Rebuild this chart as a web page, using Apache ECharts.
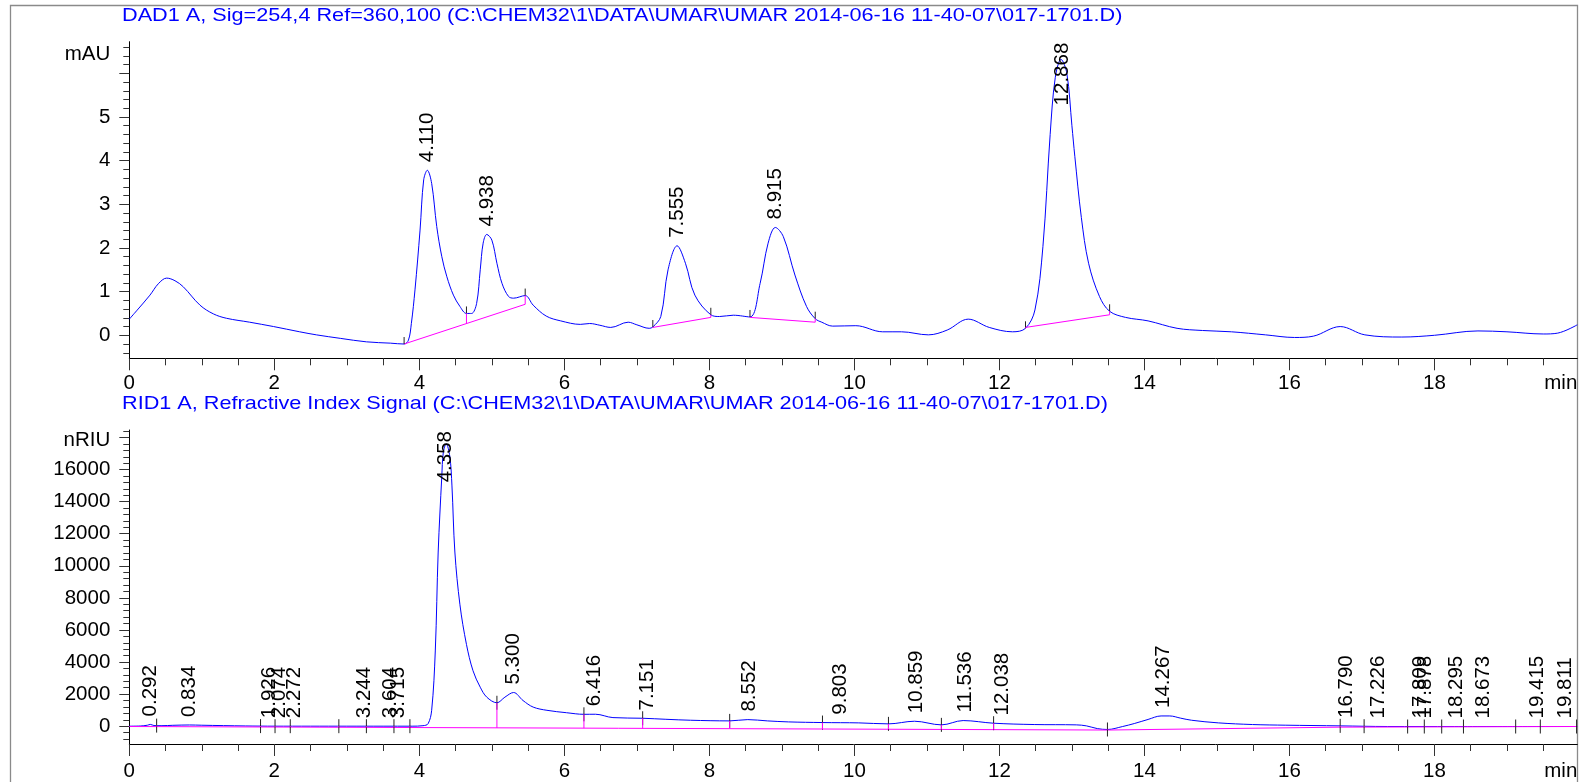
<!DOCTYPE html>
<html><head><meta charset="utf-8">
<script src="https://cdn.jsdelivr.net/npm/echarts@6/dist/echarts.min.js"></script>
<style>html,body{margin:0;padding:0;background:#fff;}#c{width:1579px;height:782px;}</style>
</head><body><div id="c"></div>
<script>
// ---------- texts ----------
const dadTitle = 'DAD1 A, Sig=254,4 Ref=360,100 (C:\\CHEM32\\1\\DATA\\UMAR\\UMAR 2014-06-16 11-40-07\\017-1701.D)';
const ridTitle = 'RID1 A, Refractive Index Signal (C:\\CHEM32\\1\\DATA\\UMAR\\UMAR 2014-06-16 11-40-07\\017-1701.D)';
const dadUnit = 'mAU';
const ridUnit = 'nRIU';
const xUnit = 'min';

// ---------- tick values ----------
const xMajorTicks = [0, 2, 4, 6, 8, 10, 12, 14, 16, 18];
const xTickLabels = [0, 2, 4, 6, 8, 10, 12, 14, 16, 18];
const dadYMajorTicks = [0, 1, 2, 3, 4, 5, 6];
const dadYTickLabels = [0, 1, 2, 3, 4, 5];
const ridYMajorTicks = [0, 2000, 4000, 6000, 8000, 10000, 12000, 14000, 16000, 18000];
const ridYTickLabels = [0, 2000, 4000, 6000, 8000, 10000, 12000, 14000, 16000];

// ---------- DAD trace (min, mAU) ----------
const dadTrace = [
[0,0.37],[0.1,0.56],[0.285,0.92],[0.4,1.18],[0.515,1.31],[0.63,1.25],[0.745,1.11],[0.975,0.69],[1.16,0.49],
[1.34,0.39],[1.66,0.30],[1.99,0.20],[2.35,0.08],[2.58,0.01],[2.91,-0.07],[3.27,-0.15],[3.6,-0.18],[3.79,-0.20],
[3.85,-0.11],[3.89,0.27],[3.94,1.04],[4.01,2.41],[4.06,3.56],[4.11,3.78],[4.17,3.48],[4.24,2.49],[4.31,1.80],
[4.38,1.34],[4.47,0.92],[4.56,0.66],[4.65,0.50],[4.72,0.50],[4.79,0.73],[4.84,1.50],[4.88,2.11],[4.93,2.31],
[5.0,2.18],[5.07,1.65],[5.14,1.19],[5.23,0.89],[5.30,0.85],[5.46,0.91],[5.57,0.69],[5.75,0.44],[5.95,0.33],
[6.22,0.25],[6.35,0.27],[6.49,0.23],[6.64,0.18],[6.88,0.30],[7.0,0.24],[7.17,0.16],[7.22,0.19],[7.33,0.43],
[7.43,1.50],[7.555,2.05],[7.67,1.65],[7.80,0.92],[8.02,0.47],[8.14,0.43],[8.33,0.46],[8.56,0.42],[8.70,1.19],
[8.81,2.11],[8.91,2.47],[9.02,2.26],[9.18,1.38],[9.34,0.66],[9.46,0.38],[9.55,0.30],[9.70,0.21],[10.02,0.22],
[10.39,0.08],[10.65,0.08],[11.02,0.01],[11.28,0.12],[11.57,0.37],[11.86,0.18],[12.18,0.08],[12.36,0.16],
[12.49,0.58],[12.60,2.03],[12.70,4.6],[12.77,5.9],[12.85,6.32],[12.93,6.0],[13.0,4.8],[13.04,4.1],[13.13,2.7],
[13.23,1.65],[13.38,0.89],[13.52,0.55],[13.74,0.41],[14.05,0.33],[14.45,0.16],[14.8,0.11],[15.2,0.08],
[15.67,0.01],[16.07,-0.05],[16.33,-0.02],[16.70,0.20],[17.04,0.01],[17.55,-0.04],[18.0,0.0],[18.6,0.10],
[19.0,0.08],[19.5,0.03],[19.7,0.05],[19.97,0.24]
];
const dadPeakTimes = [4.110, 4.938, 7.555, 8.915, 12.868];
const dadPeakLabels = ['4.110', '4.938', '7.555', '8.915', '12.868'];
const dadBaselines = [
  [3.79, -0.20, 5.46, 0.71],
  [7.22, 0.18, 8.02, 0.41],
  [8.56, 0.41, 9.46, 0.30],
  [12.36, 0.18, 13.52, 0.47]
];
const dadEvents = [3.79, 4.65, 5.46, 7.22, 8.02, 8.56, 9.46, 12.36, 13.52];

// ---------- RID trace (min, nRIU) ----------
const ridTrace = [
[0,0],[0.15,10],[0.25,60],[0.29,110],[0.34,40],[0.45,30],[0.6,55],[0.83,75],[1.0,60],[1.3,35],[1.6,15],
[1.81,5],[2.0,0],[2.5,0],[3.0,0],[3.5,0],[3.9,0],[4.05,30],[4.12,150],[4.17,990],[4.22,4690],[4.26,10860],
[4.31,15600],[4.33,17040],[4.37,17610],[4.42,16830],[4.45,14980],[4.49,10860],[4.56,7570],[4.65,5100],
[4.74,3460],[4.84,2430],[4.93,1810],[5.07,1460],[5.18,1810],[5.30,2100],[5.43,1600],[5.57,1190],[5.76,990],
[6.03,840],[6.27,740],[6.43,745],[6.67,535],[7.08,494],[7.4,430],[7.74,370],[8.28,330],[8.53,410],[8.8,330],
[9.09,267],[9.56,226],[10.06,206],[10.47,144],[10.83,308],[11.2,82],[11.5,350],[11.92,185],[12.48,103],
[13.06,82],[13.2,20],[13.35,-150],[13.49,-206],[13.7,-20],[13.86,165],[14.05,420],[14.23,638],[14.35,638],
[14.5,500],[14.65,370],[15.02,206],[15.49,103],[15.95,62],[16.7,20],[17.35,-20],[18.28,-20],[19.97,-20]
];
const ridPeakTimes = [0.292, 0.834, 1.926, 2.074, 2.272, 3.244, 3.604, 3.715, 4.358, 5.300, 6.416, 7.151, 8.552,
  9.803, 10.859, 11.536, 12.038, 14.267, 16.790, 17.226, 17.809, 17.878, 18.295, 18.673, 19.415, 19.811];
const ridPeakLabels = ['0.292','0.834','1.926','2.074','2.272','3.244','3.604','3.715','4.358','5.300','6.416',
  '7.151','8.552','9.803','10.859','11.536','12.038','14.267','16.790','17.226','17.809','17.878','18.295',
  '18.673','19.415','19.811'];
const ridBaseline = [[0,-20],[13.49,-240],[16.7,-60],[19.97,-20]];
const ridEvents = [0.377, 1.81, 2.01, 2.22, 2.89, 3.27, 3.65, 3.87, 5.07, 6.27, 7.08, 8.28, 9.56, 10.47, 11.2,
  11.92, 13.49, 16.70, 17.03, 17.63, 17.86, 18.10, 18.40, 19.12, 19.46, 19.96];

// ---------- helpers ----------
function steps(a, b, s, skip) {
  const out = [];
  for (let i = 0; a + i * s <= b + 1e-9; i++) {
    const v = Math.round((a + i * s) * 1000) / 1000;
    if (Math.abs(v / skip - Math.round(v / skip)) > 1e-6) out.push(v);
  }
  return out;
}
const xMinorTicks = steps(0.5, 19.5, 0.5, 2);
const dadYMinorTicks = steps(-0.4, 6.6, 0.2, 1);
const ridYMinorTicks = steps(-800, 18400, 400, 2000);

function interp(arr, t) {
  if (t <= arr[0][0]) return arr[0][1];
  for (let i = 1; i < arr.length; i++) {
    if (t <= arr[i][0]) {
      const a = arr[i - 1], b = arr[i];
      return a[1] + (b[1] - a[1]) * (t - a[0]) / (b[0] - a[0]);
    }
  }
  return arr[arr.length - 1][1];
}
function apex(arr, t) {
  let m = interp(arr, t);
  arr.forEach(p => { if (Math.abs(p[0] - t) <= 0.04) m = Math.max(m, p[1]); });
  return m;
}
function dadBaseAt(t) {
  for (const s of dadBaselines) {
    if (t >= s[0] - 1e-6 && t <= s[2] + 1e-6) return s[1] + (s[3] - s[1]) * (t - s[0]) / (s[2] - s[0]);
  }
  return interp(dadTrace, t);
}

const FONT = '"Liberation Sans", Arial, Helvetica, sans-serif';
const LBL_FONT = '20.5px ' + FONT;
const mctx = document.createElement('canvas').getContext('2d');
mctx.font = LBL_FONT;
function tw(s) { return mctx.measureText(s).width; }

const BLUE = '#0000ff', MAG = '#ff00ff';

function labelSeries(xi, yi, times, texts, trace) {
  return {
    type: 'custom', xAxisIndex: xi, yAxisIndex: yi, z: 5,
    data: times.map(t => [t, apex(trace, t)]),
    renderItem: function (params, api) {
      const p = api.coord([api.value(0), api.value(1)]);
      const txt = texts[params.dataIndex];
      const w = tw(txt);
      let y = p[1] - 8;
      const top = params.coordSys.y;
      if (y - w < top + 1) y = top + 1 + w;
      return { type: 'text', x: p[0], y: y, rotation: Math.PI / 2,
        style: { text: txt, font: LBL_FONT, fill: '#000', align: 'left', verticalAlign: 'middle' } };
    }
  };
}
function eventSeries(xi, yi, data, above, below) {
  return {
    type: 'custom', xAxisIndex: xi, yAxisIndex: yi, z: 4,
    data: data,
    renderItem: function (params, api) {
      const p = api.coord([api.value(0), api.value(1)]);
      const b = api.coord([api.value(0), api.value(2)]);
      return { type: 'group', children: [
        { type: 'line', shape: { x1: p[0], y1: p[1] - above, x2: p[0], y2: p[1] + below },
          style: { stroke: '#222', lineWidth: 1 } },
        { type: 'line', shape: { x1: b[0], y1: b[1], x2: p[0], y2: p[1] },
          style: { stroke: MAG, lineWidth: 1 } }
      ]};
    }
  };
}

function xAxes(gi, margin) {
  return [
    { gridIndex: gi, type: 'value', position: 'bottom', min: 0, max: 19.97,
      axisLine: { show: true, onZero: false, lineStyle: { color: '#000', width: 1 } },
      axisTick: { show: true, length: 12, customValues: xMajorTicks, lineStyle: { color: '#333' } },
      axisLabel: { show: true, customValues: xTickLabels, margin: margin, fontSize: 20.5, fontFamily: FONT, color: '#000' },
      splitLine: { show: false },
      name: xUnit, nameLocation: 'end', nameGap: 0,
      nameTextStyle: { fontSize: 20.5, fontFamily: FONT, color: '#000', align: 'right', verticalAlign: 'top', padding: [margin, 0, 0, 0] } },
    { gridIndex: gi, type: 'value', position: 'bottom', min: 0, max: 19.97,
      axisLine: { show: false, onZero: false },
      axisTick: { show: true, length: 7, customValues: xMinorTicks, lineStyle: { color: '#333' } },
      axisLabel: { show: false }, splitLine: { show: false } }
  ];
}
function yAxes(gi, min, max, major, labels, minor, unit, unitGap, unitPad) {
  return [
    { gridIndex: gi, type: 'value', position: 'left', min: min, max: max,
      axisLine: { show: true, onZero: false, lineStyle: { color: '#000', width: 1 } },
      axisTick: { show: true, length: 10, customValues: major, lineStyle: { color: '#333' } },
      axisLabel: { show: true, customValues: labels, margin: 19, fontSize: 20.5, fontFamily: FONT, color: '#000',
        formatter: v => String(v) },
      splitLine: { show: false },
      name: unit, nameLocation: 'end', nameGap: unitGap,
      nameTextStyle: { fontSize: 20.5, fontFamily: FONT, color: '#000', align: 'right', verticalAlign: 'middle', padding: [0, unitPad, 0, 0] } },
    { gridIndex: gi, type: 'value', position: 'left', min: min, max: max,
      axisLine: { show: false, onZero: false },
      axisTick: { show: true, length: 6, customValues: minor, lineStyle: { color: '#333' } },
      axisLabel: { show: false }, splitLine: { show: false } }
  ];
}

const chart = echarts.init(document.getElementById('c'), null, { renderer: 'canvas' });
chart.setOption({
  animation: false,
  backgroundColor: '#fff',
  grid: [
    { left: 129.3, right: 1.7, top: 41.7, height: 316.6 },
    { left: 129.3, right: 1.7, top: 430, height: 317.3 }
  ],
  xAxis: xAxes(0, 15).concat(xAxes(1, 17)),
  yAxis: yAxes(0, -0.527, 6.725, dadYMajorTicks, dadYTickLabels, dadYMinorTicks, dadUnit, -12.3, 19)
    .concat(yAxes(1, -1111, 18469, ridYMajorTicks, ridYTickLabels, ridYMinorTicks, ridUnit, -10, 19)),
  graphic: [
    { type: 'rect', shape: { x: 10.5, y: 5.5, width: 1567, height: 900 }, style: { fill: 'none', stroke: '#8a8a8a', lineWidth: 1.3 }, silent: true },
    { type: 'text', x: 122, y: 6, scaleX: 1.14, style: { text: dadTitle, font: '19px ' + FONT, fill: BLUE, verticalAlign: 'top' } },
    { type: 'text', x: 122, y: 394, scaleX: 1.14, style: { text: ridTitle, font: '19px ' + FONT, fill: BLUE, verticalAlign: 'top' } }
  ],
  series: [
    { type: 'line', xAxisIndex: 0, yAxisIndex: 0, data: dadTrace, showSymbol: false, smooth: 0.35,
      lineStyle: { color: BLUE, width: 1 }, z: 2 },
    { type: 'custom', xAxisIndex: 0, yAxisIndex: 0, z: 3, data: dadBaselines,
      renderItem: function (params, api) {
        const a = api.coord([api.value(0), api.value(1)]);
        const b = api.coord([api.value(2), api.value(3)]);
        return { type: 'line', shape: { x1: a[0], y1: a[1], x2: b[0], y2: b[1] }, style: { stroke: MAG, lineWidth: 1 } };
      } },
    eventSeries(0, 0, dadEvents.map(t => [t, interp(dadTrace, t), dadBaseAt(t)]), 7, 0),
    labelSeries(0, 0, dadPeakTimes, dadPeakLabels, dadTrace),

    { type: 'line', xAxisIndex: 2, yAxisIndex: 2, data: ridTrace, showSymbol: false, smooth: 0.35,
      lineStyle: { color: BLUE, width: 1 }, z: 2 },
    { type: 'line', xAxisIndex: 2, yAxisIndex: 2, data: ridBaseline, showSymbol: false,
      lineStyle: { color: MAG, width: 1 }, z: 3 },
    eventSeries(2, 2, ridEvents.map(t => [t, interp(ridTrace, t), interp(ridBaseline, t)]), 7, 7),
    labelSeries(2, 2, ridPeakTimes, ridPeakLabels, ridTrace)
  ]
});
</script></body></html>
